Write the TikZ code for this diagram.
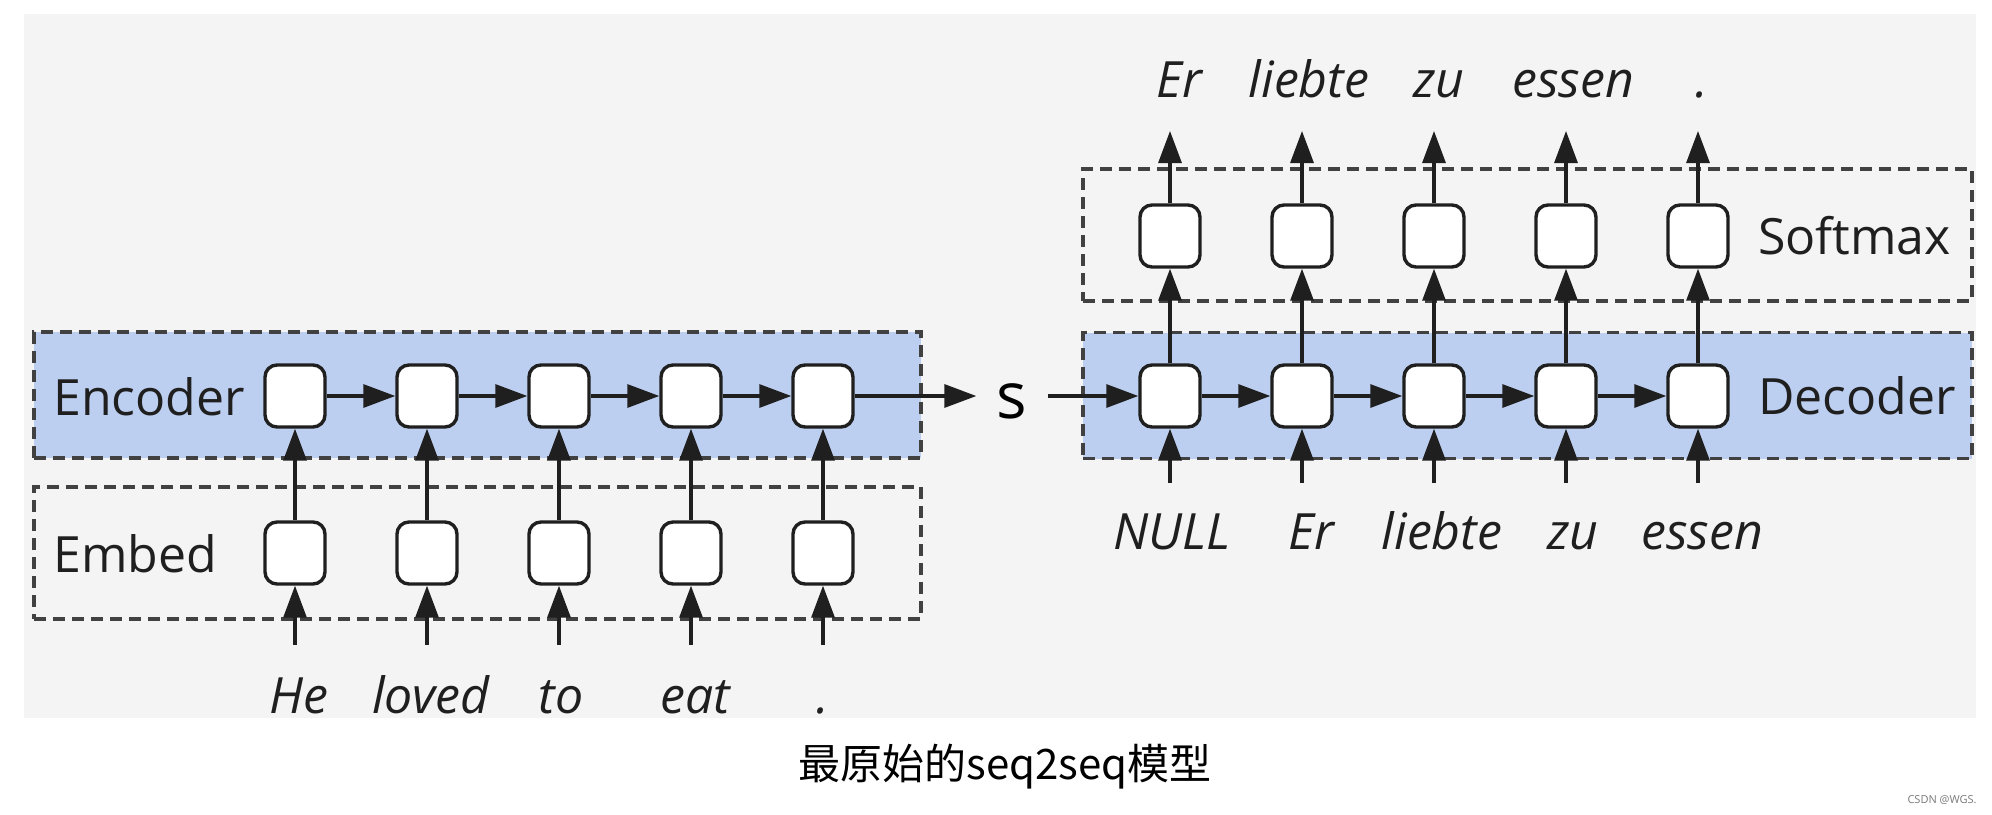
\documentclass[tikz,border=0pt]{standalone}
\usepackage{fontspec}
\setmainfont{Open Sans}
\newfontfamily\cjkfont{Noto Sans CJK SC}
\usetikzlibrary{arrows.meta, positioning}
\definecolor{s2sblue}{HTML}{BDCFF0}
\definecolor{s2spanel}{HTML}{F3F4F3}
\definecolor{s2sdark}{HTML}{1F1F1F}
\definecolor{s2sgray}{HTML}{7A7A7A}
\tikzset{
  cell/.style={rectangle, rounded corners=6pt, draw=s2sdark, line width=1.7pt, fill=white,
    minimum width=30pt, minimum height=31pt, inner sep=0pt},
  layerbox/.style={rectangle, draw=s2sdark!85, dash pattern=on 6pt off 3.5pt, line width=1.8pt, inner sep=0pt},
  lbl/.style={font=\fontsize{25}{30}\selectfont, text=s2sdark, inner sep=0pt},
  word/.style={font=\fontsize{25}{30}\selectfont\itshape, text=s2sdark, inner sep=0pt, anchor=base},
  arr/.style={-{Triangle[length=16pt, width=11.5pt]}, line width=1.6pt, s2sdark},
}

\begin{document}
\begin{tikzpicture}[x=0.5pt, y=-0.5pt]
    % page and grey panel
    \fill[white] (0,0) rectangle (1992,814);
    \useasboundingbox (0,0) rectangle (1992,814);
    \fill[s2spanel] (24,14) rectangle (1976,718);
    % layer boxes
    \node[layerbox, fill=s2sblue, minimum width=443.5pt, minimum height=63pt] (encbox) at (477.5,395) {};
    \node[layerbox, minimum width=443.5pt, minimum height=66pt] (embbox) at (477.5,553) {};
    \node[layerbox, fill=s2sblue, minimum width=444.5pt, minimum height=63pt] (decbox) at (1527.5,395.5) {};
    \node[layerbox, minimum width=444.5pt, minimum height=66pt] (smbox) at (1527.5,235) {};
    % encoder side
    \foreach \i/\x in {1/295, 2/427, 3/559, 4/691, 5/823} {
      \node[cell] (e\i) at (\x,396) {};
      \node[cell] (m\i) at (\x,553) {};
      \coordinate (ein\i) at (\x,645);
    }
    % decoder side
    \foreach \i/\x in {1/1170, 2/1302, 3/1434, 4/1566, 5/1698} {
      \node[cell] (d\i) at (\x,396) {};
      \node[cell] (o\i) at (\x,236) {};
      \coordinate (din\i) at (\x,483);
      \coordinate (dout\i) at (\x,131);
    }
    % labels
    \node[lbl, anchor=base west] (enclbl) at (53,415) {Encoder};
    \node[lbl, anchor=base west] (emblbl) at (53,572) {Embed};
    \node[lbl, right=14pt of d5] (declbl) {Decoder};
    \node[lbl, right=14pt of o5] (smlbl) {Softmax};
    % words
    \foreach \i/\x/\w in {1/299/He, 2/431/loved, 3/561/to, 4/695/eat, 5/823/.}
      \node[word] (in\i) at (\x,713) {\w};
    \foreach \i/\x/\w in {1/1172/NULL, 2/1311/Er, 3/1442/liebte, 4/1573/zu, 5/1702/essen}
      \node[word] (dn\i) at (\x,549) {\w};
    \foreach \i/\x/\w in {1/1179/Er, 2/1309/liebte, 3/1439/zu, 4/1573/essen, 5/1702/.}
      \node[word] (out\i) at (\x,97) {\w};
    % state
    \node[font=\fontsize{32}{36}\selectfont, text=black, inner sep=0pt] (s) at (1012,401) {s};
    % connectors
    \foreach \i in {1,...,5} {
      \draw[arr] (ein\i) -- (m\i);
      \draw[arr] (m\i) -- (e\i);
      \draw[arr] (din\i) -- (d\i);
      \draw[arr] (d\i) -- (o\i);
      \draw[arr] (o\i) -- (dout\i);
    }
    \foreach \i/\j in {1/2, 2/3, 3/4, 4/5} {
      \draw[arr] (e\i) -- (e\j);
      \draw[arr] (d\i) -- (d\j);
    }
    \draw[arr, shorten >=10pt] (e5.east) -- (s.west |- e5.east);
    \draw[arr, shorten <=10pt] (s.east |- d1.west) -- (d1.west);
    % caption
    \node[font=\cjkfont\fontsize{21}{25}\selectfont, text=black, inner sep=0pt] (caption) at (1005,767) {最原始的seq2seq模型};
    \node[font=\fontsize{5.5}{6}\selectfont, text=s2sgray, anchor=east, inner sep=0pt] (wm) at (1977,800) {CSDN @WGS.};
  \end{tikzpicture}
\end{document}
